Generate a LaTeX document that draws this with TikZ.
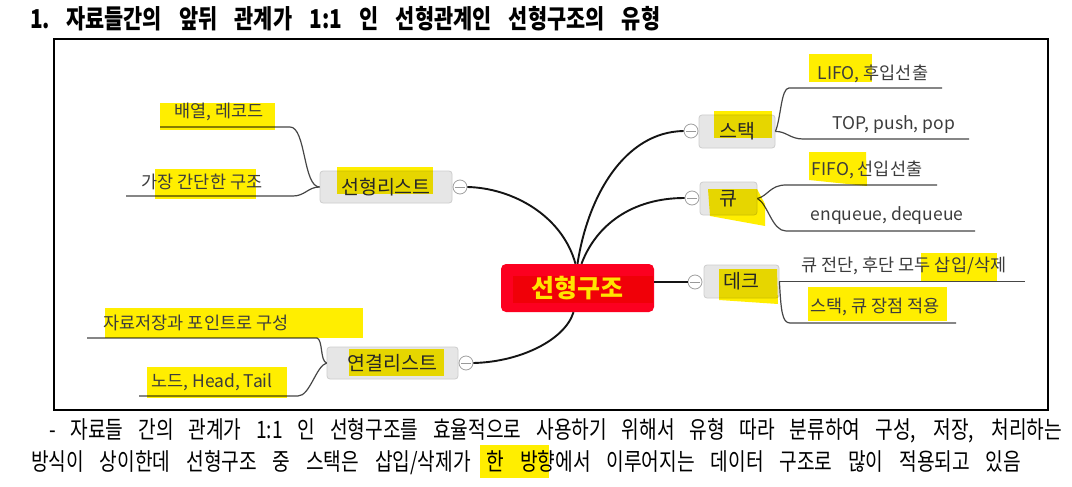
\documentclass[tikz,border=0pt]{standalone}
\usepackage{fontspec}
\newfontfamily\kr{Noto Sans CJK KR}
\newfontfamily\krc[FakeStretch=0.8]{Noto Sans CJK KR}
\definecolor{rootred}{RGB}{252,0,32}
\definecolor{rootin}{RGB}{240,0,8}
\definecolor{rootyel}{RGB}{255,228,0}
\definecolor{boxgray}{RGB}{230,230,230}
\definecolor{boxline}{RGB}{205,205,205}
\definecolor{leafgray}{RGB}{60,60,60}
\definecolor{twiggray}{RGB}{70,70,70}
\definecolor{hly}{RGB}{255,238,0}
\begin{document}
\begin{tikzpicture}[x=1pt,y=-1pt,
  leaf/.style={font=\kr\fontsize{17.5}{19}\selectfont, text=leafgray, inner sep=0},
  topicbox/.style={draw=boxline, fill=boxgray, rounded corners=3pt, line width=0.8pt, inner sep=0},
  topiclabel/.style={font=\kr\fontsize{19.5}{21}\selectfont, text=black!85, inner sep=0},
  branch/.style={line width=1.9pt, draw=black!92},
  twig/.style={line width=1.2pt, draw=twiggray},
  hl/.style={fill=hly, draw=none, blend mode=multiply},
  minus/.style={circle, draw=gray!75, fill=white, minimum size=14pt, inner sep=0, line width=0.8pt,
    path picture={\draw[gray!80, line width=0.8pt] ([xshift=-5pt]path picture bounding box.center) -- ([xshift=5pt]path picture bounding box.center);}}
]
\useasboundingbox (0,0) rectangle (1072,487);
\fill[white] (0,0) rectangle (1072,487);

% title
\node[anchor=west, inner sep=0] (t1) at (30,19) {\krc\bfseries\fontsize{26}{28}\selectfont 1.};
\node[anchor=west, inner sep=0] (t2) at (66,19) {\krc\bfseries\fontsize{26}{28}\selectfont\makebox[594pt][s]{자료들간의 앞뒤 관계가 1:1 인 선형관계인 선형구조의 유형}};

% frame
\draw[line width=1.3pt] (54,39) rectangle (1048,410);
\draw[line width=2.6pt] (1048,39) -- (1048,410);

% boxes
\node[topicbox, minimum width=132pt, minimum height=32pt] (bsl) at (386,187) {};
\node[topicbox, minimum width=131pt, minimum height=32pt] (bll) at (392.5,363) {};
\node[topicbox, minimum width=76pt, minimum height=33pt] (bst) at (737,131.5) {};
\node[topicbox, minimum width=57pt, minimum height=33pt] (bq) at (728.5,198.5) {};
\node[topicbox, minimum width=75pt, minimum height=33pt] (bd) at (741.5,281.5) {};
\node[fill=rootred, rounded corners=5pt, minimum width=153pt, minimum height=48pt, inner sep=0] (root) at (577.5,288) {};
\fill[rootin] (513,276) rectangle (653,303);

% minus circles
\node[minus] (msl) at (460,187) {};
\node[minus] (mll) at (466,363) {};
\node[minus] (mst) at (691,131) {};
\node[minus] (mq) at (692,198) {};
\node[minus] (md) at (695,282) {};

% main branches
\draw[branch] ([xshift=-2pt]root.north) .. controls (562,215) and (512,188) .. (msl.east);
\draw[branch] (root.north) .. controls (588,195) and (625,132) .. (mst.west);
\draw[branch] ([xshift=4pt]root.north) .. controls (596,225) and (632,198) .. (mq.west);
\draw[branch] (root.east |- md.west) -- (md.west);
\draw[branch] ([xshift=-4pt]root.south) .. controls (565,340) and (520,362) .. (mll.east);

% leaf underlines and connectors
\coordinate (u1a) at (160,127); \coordinate (u1b) at (290,127);
\draw[twig] (u1a) -- (u1b) .. controls (306,127) and (303,187) .. (bsl.west);
\coordinate (u2a) at (126,196); \coordinate (u2b) at (293,196);
\draw[twig] (u2a) -- (u2b) .. controls (305,196) and (308,187) .. (bsl.west);
\coordinate (u3a) at (87,338); \coordinate (u3b) at (317,338);
\draw[twig] (u3a) -- (u3b) .. controls (323,340) and (320,361) .. (bll.west);
\coordinate (u4a) at (139,396); \coordinate (u4b) at (298,396);
\draw[twig] (u4a) -- (u4b) .. controls (310,396) and (316,366) .. (bll.west);
\coordinate (u5a) at (789,88); \coordinate (u5b) at (942,88);
\draw[twig] (bst.east) .. controls (781,118) and (781,88) .. (u5a) -- (u5b);
\coordinate (u6a) at (803,139); \coordinate (u6b) at (969,139);
\draw[twig] (bst.east) .. controls (786,131) and (790,139) .. (u6a) -- (u6b);
\coordinate (u7a) at (786,185); \coordinate (u7b) at (937,185);
\draw[twig] (bq.east) .. controls (768,196) and (770,185) .. (u7a) -- (u7b);
\coordinate (u8a) at (786,231); \coordinate (u8b) at (975,231);
\draw[twig] (bq.east) .. controls (768,204) and (772,231) .. (u8a) -- (u8b);
\coordinate (u9b) at (1025,281.5);
\draw[twig] (bd.east) -- (u9b);
\coordinate (u10a) at (790,323); \coordinate (u10b) at (956,323);
\draw[twig] (bd.east) .. controls (781,310) and (782,323) .. (u10a) -- (u10b);

% highlights
\fill[hl] (160,103) rectangle (275,130);
\fill[hl] (155,169) rectangle (256,199);
\fill[hl] (337,167) rectangle (433,194);
\fill[hl] (105,308) rectangle (363,338);
\fill[hl] (147,367) rectangle (287,398);
\fill[hl] (349,349) rectangle (444,376);
\fill[hl] (809,54) rectangle (872,82);
\fill[hl] (714,111) rectangle (772,138);
\fill[hl] (809,152) -- (866,152) -- (867,186) -- (809,180) -- cycle;
\fill[hl] (708,189) -- (757,189) -- (765,204) -- (765,226) -- (710,216) -- cycle;
\fill[hl] (719,269) -- (777,269) -- (778,304) -- (719,300) -- cycle;
\fill[hl] (921,253) rectangle (997,281);
\fill[hl] (808,287) rectangle (947,321);
\fill[hl] (480,445) rectangle (549,478);

% labels
\node[leaf] (l1) at (219,112) {배열, 레코드};
\node[leaf] (l2) at (202,182) {가장 간단한 구조};
\node[leaf] (l3) at (196,323) {자료저장과 포인트로 구성};
\node[leaf] (l4) at (212,382) {노드, Head, Tail};
\node[leaf] (l5) at (873,74) {LIFO, 후입선출};
\node[leaf] (l6) at (894,125) {TOP, push, pop};
\node[leaf] (l7) at (867,170) {FIFO, 선입선출};
\node[leaf] (l8) at (887,216) {enqueue, dequeue};
\node[leaf] (l9) at (904,266) {큐 전단, 후단 모두 삽입/삭제};
\node[leaf] (l10) at (875,307) {스택, 큐 장점 적용};
\node[topiclabel] (tsl) at (bsl.center) {선형리스트};
\node[topiclabel] (tll) at (bll.center) {연결리스트};
\node[topiclabel] (tst) at (bst.center) {스택};
\node[topiclabel] (tq) at (bq.center) {큐};
\node[topiclabel] (td) at (bd.center) {데크};
\node[inner sep=0, text=rootyel, font=\kr\bfseries\fontsize{25}{28}\selectfont] (troot) at (root.center) {선형구조};

% body text
\node[anchor=west, inner sep=0] (p1) at (49,431) {\krc\fontsize{24}{26}\selectfont\makebox[1013pt][s]{- 자료들 간의 관계가 1:1 인 선형구조를 효율적으로 사용하기 위해서 유형 따라 분류하여 구성, 저장, 처리하는}};
\node[anchor=west, inner sep=0] (p2) at (31,463) {\krc\fontsize{24}{26}\selectfont\makebox[990pt][s]{방식이 상이한데 선형구조 중 스택은 삽입/삭제가 한 방향에서 이루어지는 데이터 구조로 많이 적용되고 있음}};
\end{tikzpicture}
\end{document}
